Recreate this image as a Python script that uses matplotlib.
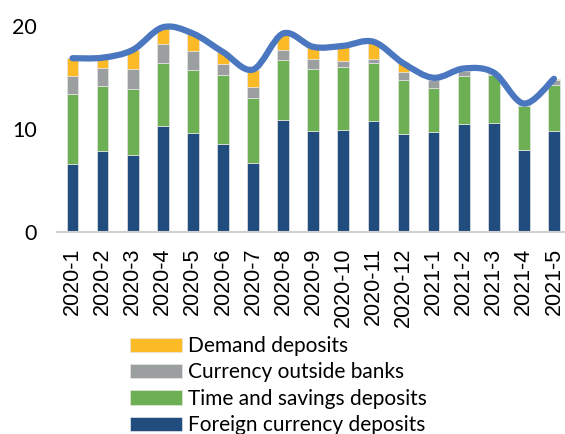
import numpy as np
import matplotlib.pyplot as plt
from matplotlib.path import Path
from matplotlib.patches import PathPatch

# monthly deposit components
months = ['2020-1', '2020-2', '2020-3', '2020-4', '2020-5', '2020-6', '2020-7', '2020-8',
          '2020-9', '2020-10', '2020-11', '2020-12', '2021-1', '2021-2', '2021-3',
          '2021-4', '2021-5']
foreign = [6.67, 7.9, 7.54, 10.3, 9.64, 8.6, 6.77, 10.87, 9.84, 9.9, 10.78, 9.58, 9.74,
           10.5, 10.6, 8.0, 9.84]
time_savings = [6.79, 6.3, 6.41, 6.1, 6.16, 6.7, 6.23, 5.83, 6.06, 6.1, 5.62, 5.17, 4.31,
                4.7, 4.65, 4.3, 4.46]
currency = [1.74, 1.75, 1.95, 1.9, 1.8, 1.0, 1.1, 0.97, 0.9, 0.6, 0.45, 0.8, 0.7,
            0.5, 0.15, 0.1, 0.45]
demand = [1.7, 1.0, 1.8, 1.6, 1.7, 1.2, 1.7, 1.63, 1.2, 1.5, 1.65, 0.85, 0.25,
          0.2, 0.1, 0.1, 0.15]

c_demand = '#FBBA26'
c_currency = '#9C9FA0'
c_time = '#6DB054'
c_foreign = '#214C7E'
c_line = '#4A77C0'

fig = plt.figure(figsize=(5.65, 4.34), dpi=100)
ax = fig.add_axes([0.1017, 0.4647, 0.9054, 0.5353])

x = np.arange(len(months))
w = 0.39
f = np.array(foreign)
t = np.array(time_savings)
c = np.array(currency)
d = np.array(demand)
ec = '#E6E6E6'
ax.bar(x, f, w, color=c_foreign, edgecolor=ec, linewidth=0.5, label='Foreign currency deposits')
ax.bar(x, t, w, bottom=f, color=c_time, edgecolor=ec, linewidth=0.5, label='Time and savings deposits')
ax.bar(x, c, w, bottom=f + t, color=c_currency, edgecolor=ec, linewidth=0.5, label='Currency outside banks')
ax.bar(x, d, w, bottom=f + t + c, color=c_demand, edgecolor=ec, linewidth=0.5, label='Demand deposits')

# smoothed total line (Excel style bezier)
total = f + t + c + d
px = np.concatenate([[x[0]], x, [x[-1]]]).astype(float)
py = np.concatenate([[total[0]], total, [total[-1]]])
verts = [(x[0], total[0])]
codes = [Path.MOVETO]
for i in range(1, len(px) - 2):
    c1 = (px[i] + (px[i + 1] - px[i - 1]) / 6, py[i] + (py[i + 1] - py[i - 1]) / 6)
    c2 = (px[i + 1] - (px[i + 2] - px[i]) / 6, py[i + 1] - (py[i + 2] - py[i]) / 6)
    verts += [c1, c2, (px[i + 1], py[i + 1])]
    codes += [Path.CURVE4] * 3
ax.add_patch(PathPatch(Path(verts, codes), facecolor='none', edgecolor=c_line,
                       linewidth=4.5, capstyle='round', joinstyle='round', clip_on=False, zorder=5))

ax.set_xlim(-0.5, len(months) - 0.5)
ax.set_ylim(0, 22.55)
ax.set_yticks([0, 10, 20])
ax.set_yticklabels(['0', '10', '20'], family='Lato', fontsize=15.5)
ax.set_xticks(x)
ax.set_xticklabels(months, rotation=90, family='Liberation Sans', fontsize=15.5)
ax.tick_params(axis='y', length=0, pad=15)
ax.tick_params(axis='x', length=0, pad=11)
for s in ['top', 'right', 'left']:
    ax.spines[s].set_visible(False)
ax.spines['bottom'].set_color('#D0D0D0')
ax.spines['bottom'].set_linewidth(1.5)

h, l = ax.get_legend_handles_labels()
fig.legend(h[::-1], l[::-1], loc='upper left', bbox_to_anchor=(0.230, 0.226),
           frameon=False, prop={'family': 'Lato', 'size': 15},
           handlelength=2.5, handleheight=0.67, handletextpad=0.3,
           labelspacing=0.31, borderaxespad=0, borderpad=0)

fig.savefig('out.png', dpi=100)
